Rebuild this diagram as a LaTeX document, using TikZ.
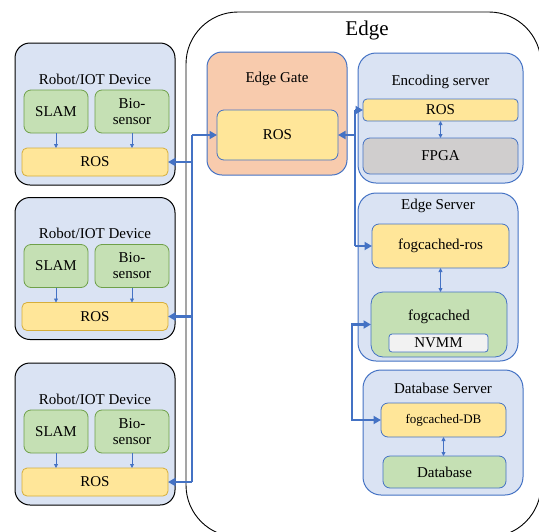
\documentclass[tikz,border=0pt]{standalone}
\usepackage{fontspec}
\setmainfont{Liberation Serif}
\usetikzlibrary{arrows.meta}
\definecolor{lblue}{HTML}{DAE3F3}
\definecolor{bblue}{HTML}{4472C4}
\definecolor{lgreen}{HTML}{C5E0B4}
\definecolor{dgreen}{HTML}{6FA04A}
\definecolor{lyellow}{HTML}{FFE699}
\definecolor{gyellow}{HTML}{D6AE3A}
\definecolor{lorange}{HTML}{F8CBAD}
\definecolor{lgray}{HTML}{D0CECE}
\definecolor{vlgray}{HTML}{F2F2F2}
\begin{document}
\begin{tikzpicture}[x=1pt,y=-1pt,
  every node/.style={inner sep=0pt,outer sep=0pt,font=\fontsize{15}{16}\selectfont,align=center},
  devbox/.style={draw=black,line width=1pt,fill=lblue,rounded corners=15pt},
  srvbox/.style={draw=bblue,line width=1pt,fill=lblue,rounded corners=18pt},
  gatebox/.style={draw=bblue,line width=1pt,fill=lorange,rounded corners=15pt},
  greenbox/.style={draw=dgreen,line width=0.8pt,fill=lgreen,rounded corners=7pt},
  greensrv/.style={draw=bblue,line width=0.8pt,fill=lgreen,rounded corners=7pt},
  rosbox/.style={draw=gyellow,line width=0.8pt,fill=lyellow,rounded corners=5pt},
  rossrv/.style={draw=bblue,line width=0.8pt,fill=lyellow,rounded corners=7pt},
  graybox/.style={draw=bblue,line width=0.8pt,fill=lgray,rounded corners=7pt},
  nvbox/.style={draw=bblue,line width=0.8pt,fill=vlgray,rounded corners=3pt},
  bus/.style={draw=bblue,line width=2.8pt,-{Triangle[length=7.5pt,width=8pt]}},
  busline/.style={draw=bblue,line width=2.8pt},
  busboth/.style={draw=bblue,line width=2.8pt,{Triangle[length=7.5pt,width=8pt]}-{Triangle[length=7.5pt,width=8pt]}},
  smallarr/.style={draw=bblue,line width=0.8pt,-{Triangle[length=4pt,width=4pt]}},
  smallboth/.style={draw=bblue,line width=0.8pt,{Triangle[length=4pt,width=4pt]}-{Triangle[length=4pt,width=4pt]}}
]
\useasboundingbox (0,0) rectangle (539,531);
% Edge outer box
\draw[black,line width=0.9pt,rounded corners=52pt] (186,12) rectangle (541,537);
\node[font=\fontsize{21}{24}\selectfont] (edgettl) at (367,30) {Edge};

% Robot devices
\foreach \i/\dy in {1/0,2/154.5,3/320}{
  \node[devbox,minimum width=160pt,minimum height=142pt] (r\i) at (95,{114+\dy}) {};
  \node (r\i t) at (95,{79+\dy}) {Robot/IOT Device};
  \node[greenbox,minimum width=64pt,minimum height=43pt] (r\i s) at (56,{111.5+\dy}) {SLAM};
  \node[greenbox,minimum width=74pt,minimum height=43pt] (r\i b) at (132,{111.5+\dy}) {Bio-\\sensor};
  \node[rosbox,minimum width=146pt,minimum height=28pt] (r\i r) at (95,{162+\dy}) {ROS};
  \draw[smallarr] (r\i s.south) -- (r\i s.south |- r\i r.north);
  \draw[smallarr] (r\i b.south) -- (r\i b.south |- r\i r.north);
}

% Edge gate
\node[gatebox,minimum width=140pt,minimum height=123pt] (gate) at (277,113.5) {};
\node (gatet) at (277,79) {Edge Gate};
\node[rossrv,minimum width=121pt,minimum height=50pt] (gros) at (277.5,135) {ROS};

% Encoding server
\node[srvbox,minimum width=165pt,minimum height=130pt] (enc) at (440.5,118) {};
\node (enct) at (440.5,82) {Encoding server};
\node[rossrv,rounded corners=4pt,minimum width=155pt,minimum height=22pt] (eros) at (440.5,110) {ROS};
\node[graybox,minimum width=155pt,minimum height=36pt] (fpga) at (440.5,156) {FPGA};
\draw[smallboth] (eros.south) -- (fpga.north);

% Edge server
\node[srvbox,minimum width=160pt,minimum height=168pt] (es) at (438,277) {};
\node (est) at (438,206) {Edge Server};
\node[rossrv,minimum width=137pt,minimum height=44pt] (fros) at (440.5,246) {fogcached-ros};
\node[greensrv,rounded corners=12pt,minimum width=136pt,minimum height=65pt] (fc) at (439,324.5) {};
\node (fct) at (439,317) {fogcached};
\node[nvbox,minimum width=99pt,minimum height=18pt] (nvmm) at (438.5,343) {NVMM};
\draw[smallboth] (fros.south) -- (fros.south |- fc.north);

% Database server
\node[srvbox,minimum width=160pt,minimum height=125pt] (dbs) at (443,432.5) {};
\node (dbst) at (443,388) {Database Server};
\node[rossrv,minimum width=125pt,minimum height=34pt,font=\fontsize{13}{15}\selectfont] (fdb) at (443.5,420) {fogcached-DB};
\node[greensrv,minimum width=123pt,minimum height=32pt] (db) at (444.5,472) {Database};
\draw[smallboth] (fdb.south) -- (fdb.south |- db.north);

% Left bus
\coordinate (lb1) at (192,135);
\coordinate (lb2) at (192,162);
\coordinate (lb3) at (192,316.5);
\coordinate (lb4) at (192,482);
\draw[busline] (lb1) -- (lb4);
\draw[bus] (lb1) -- (gros.west);
\draw[bus] (lb2) -- (r1r.east);
\draw[bus] (lb3) -- (r2r.east);
\draw[bus] (lb4) -- (r3r.east);

% Right bus
\coordinate (rb1) at (355,110);
\coordinate (rb2) at (355,135);
\coordinate (rb3) at (355,246);
\draw[busline] (rb1) -- (rb3);
\draw[bus] (rb2) -- (gros.east);
\draw[bus] (rb1) -- (eros.west);
\draw[bus] (rb3) -- (fros.west);

% DB bus
\coordinate (db1) at (352,324.5);
\draw[busboth] (fc.west) -- (db1) |- (fdb.west);
\end{tikzpicture}
\end{document}
